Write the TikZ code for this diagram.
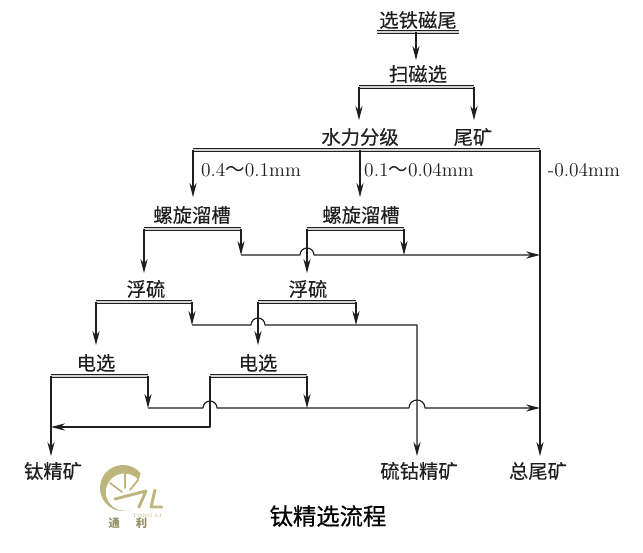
\documentclass[tikz,border=0pt]{standalone}
\usepackage{fontspec}
\newfontfamily\cjk[FakeBold=0.25]{Noto Sans CJK SC}
\newfontfamily\cjkplain{Noto Sans CJK SC}
\newfontfamily\cjktitle[FakeBold=0.6]{Noto Sans CJK SC}
\usetikzlibrary{arrows.meta}
\definecolor{inkgray}{gray}{0.12}
\definecolor{logogold}{RGB}{190,180,125}
\tikzset{
	lab/.style={inner sep=0pt, text=inkgray, font=\cjk\fontsize{14.5pt}{14.5pt}\selectfont},
	numlab/.style={inner sep=0pt, text=inkgray, font=\fontsize{14.6pt}{14.6pt}\selectfont},
	bar/.style={draw=inkgray, line width=0.9pt, double=white!65!gray, double distance=0.9pt},
	pipe/.style={draw=inkgray, line width=0.85pt},
	flow/.style={pipe, -{Stealth[length=10.5pt, width=5.4pt]}},
}
\begin{document}
\begin{tikzpicture}[x=0.75pt, y=-0.75pt, line join=round]
	\useasboundingbox (0,0) rectangle (643,553);
	% ==========================================
	\node[lab] (feed) at (418,20) {选铁磁尾};
	\coordinate (feedL) at (377,32);
	\coordinate (feedR) at (459,32);
	\coordinate (feedM) at (416,32);
	\draw[bar] (feedL) -- (feedR);
	\node[lab] (scav) at (418,74) {扫磁选};
	\coordinate (scavL) at (359,87);
	\coordinate (scavR) at (474,87);
	\coordinate (scavIn) at (416,60);
	\draw[bar] (scavL) -- (scavR);
	\draw[flow] (feedM) -- (scavIn);
	\node[lab] (hydro) at (360,137) {水力分级};
	\node[lab] (tail) at (473,137) {尾矿};
	\coordinate (hydroIn) at (359,120);
	\coordinate (tailIn) at (474,120);
	\draw[flow] (scavL) -- (hydroIn);
	\draw[flow] (scavR) -- (tailIn);
	% ==========================================
	\coordinate (hydroL) at (193,150);
	\coordinate (hydroM) at (360,150);
	\coordinate (hydroR) at (540,150);
	\draw[bar] (hydroL) -- (hydroR);
	\node[numlab] (coarse) at (251,170) {0.4{\cjkplain～}0.1mm};
	\node[numlab] (medium) at (419,170) {0.1{\cjkplain～}0.04mm};
	\node[numlab] (fine) at (584,170) {-0.04mm};
	\coordinate (spiralAIn) at (193,197);
	\coordinate (spiralBIn) at (360,197);
	\draw[flow] (hydroL) -- (spiralAIn);
	\draw[flow] (hydroM) -- (spiralBIn);
	% spirals
	\node[lab] (spiralA) at (192,215) {螺旋溜槽};
	\node[lab] (spiralB) at (361,215) {螺旋溜槽};
	\coordinate (spiralAL) at (144,229);
	\coordinate (spiralAR) at (241,229);
	\coordinate (spiralBL) at (307,229);
	\coordinate (spiralBR) at (404,229);
	\draw[bar] (spiralAL) -- (spiralAR);
	\draw[bar] (spiralBL) -- (spiralBR);
	\coordinate (tailA) at (241,255);
	\coordinate (hopA) at (300,255);
	\coordinate (tailB) at (404,255);
	\coordinate (tailAEnd) at (540,255);
	\draw[flow] (spiralAR) -- (tailA);
	\draw[flow] (spiralBR) -- (tailB);
	\draw[flow] (tailA) -- (hopA) arc (180:0:5.25pt) -- (tailAEnd);
	% flotation
	\node[lab] (floatA) at (146,289) {浮硫};
	\node[lab] (floatB) at (308,289) {浮硫};
	\coordinate (floatAIn) at (144,273);
	\coordinate (floatBIn) at (307,273);
	\draw[flow] (spiralAL) -- (floatAIn);
	\draw[flow] (spiralBL) -- (floatBIn);
	\coordinate (floatAL) at (96,302);
	\coordinate (floatAR) at (192,302);
	\coordinate (floatBL) at (258,302);
	\coordinate (floatBR) at (356,302);
	\draw[bar] (floatAL) -- (floatAR);
	\draw[bar] (floatBL) -- (floatBR);
	\coordinate (sulfA) at (192,325);
	\coordinate (hopB) at (251,325);
	\coordinate (sulfB) at (356,325);
	\coordinate (sulfCorner) at (417,325);
	\coordinate (sulfEnd) at (417,456);
	\draw[flow] (floatAR) -- (sulfA);
	\draw[flow] (floatBR) -- (sulfB);
	\draw[flow] (sulfA) -- (hopB) arc (180:0:5.25pt) -- (sulfCorner) -- (sulfEnd);
	% electric separation
	\node[lab] (elecA) at (96,363) {电选};
	\node[lab] (elecB) at (258,363) {电选};
	\coordinate (elecAIn) at (96,345);
	\coordinate (elecBIn) at (258,345);
	\draw[flow] (floatAL) -- (elecAIn);
	\draw[flow] (floatBL) -- (elecBIn);
	\coordinate (elecAL) at (51,376);
	\coordinate (elecAR) at (148,376);
	\coordinate (elecBL) at (210,376);
	\coordinate (elecBR) at (307,376);
	\draw[bar] (elecAL) -- (elecAR);
	\draw[bar] (elecBL) -- (elecBR);
	\coordinate (wasteA) at (148,408);
	\coordinate (hopC) at (203,408);
	\coordinate (wasteB) at (307,408);
	\coordinate (hopD) at (409,408);
	\coordinate (wasteEnd) at (540,408);
	\draw[flow] (elecAR) -- (wasteA);
	\draw[flow] (elecBR) -- (wasteB);
	\draw[flow] (wasteA) -- (hopC) arc (180:0:5.25pt) -- (hopD) arc (180:0:6pt) -- (wasteEnd);
	\coordinate (concCorner) at (210,427);
	\coordinate (concJoin) at (51,427);
	\coordinate (concEnd) at (51,456);
	\draw[flow] (elecBL) -- (concCorner) -- (concJoin);
	\draw[flow] (elecAL) -- (concEnd);
	% ==========================================
	\coordinate (totalEnd) at (540,456);
	\draw[flow] (hydroR) -- (totalEnd);
	\node[lab] (titan) at (53,471) {钛精矿};
	\node[lab] (cobalt) at (419,471) {硫钴精矿};
	\node[lab] (total) at (538,471) {总尾矿};
	\node[inner sep=0pt, text=black, font=\cjktitle\fontsize{17.5pt}{17.5pt}\selectfont] (title) at (328,516) {钛精选流程};
	% logo
	\fill[logogold] (140.6,473.2) arc (40:290:17.25pt) arc (290:40:14pt) -- cycle;
	\begin{scope}[draw=logogold, line cap=round]
		\draw[line width=1.3pt] (110,483) -- (122,492);
		\draw[line width=1.3pt] (125,470) -- (125,488);
		\draw[line width=1.3pt] (138,480) -- (130,490);
		\draw[line width=2.2pt] (115,499) -- (146,491) -- (139,507);
		\draw[line width=2.2pt] (155,490) -- (151,507) -- (162,507);
		\node[inner sep=0pt, text=logogold, font=\fontsize{3.8pt}{3.8pt}\selectfont] (logoEn) at (147,516) {TONG LI};
		\node[inner sep=0pt, text=logogold!80!black, font=\cjkplain\bfseries\fontsize{8.5pt}{8.5pt}\selectfont] (logoCn) at (128,523) {通\hspace{12pt}利};
	\end{scope}
\end{tikzpicture}
\end{document}
